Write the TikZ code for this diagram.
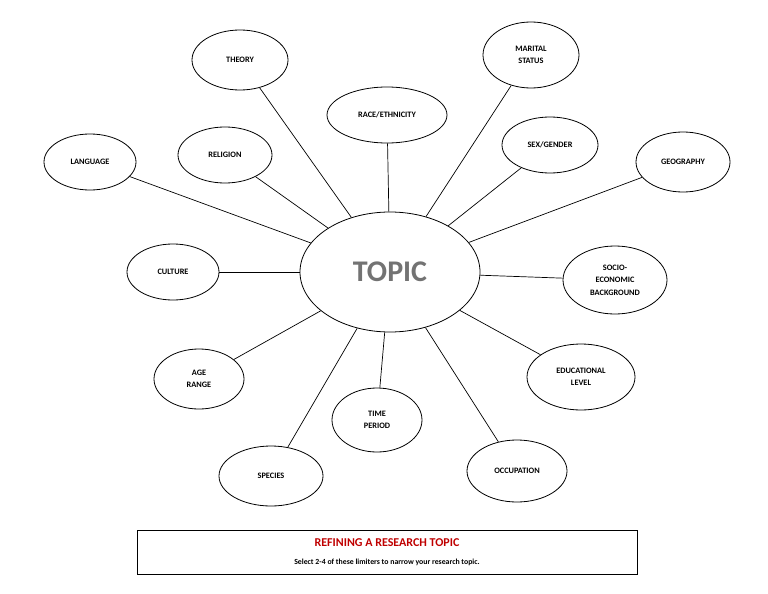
\documentclass[tikz,border=0pt]{standalone}
\usepackage{fontspec}
\setmainfont{Carlito}
\usetikzlibrary{shapes.geometric}
\begin{document}
\begin{tikzpicture}[x=1pt,y=-1pt,
  lim/.style={draw,ellipse,line width=0.8pt,inner sep=0pt,font=\bfseries\fontsize{8.3}{12.5}\selectfont,align=center},
  conn/.style={line width=0.7pt}]
\useasboundingbox (0,0) rectangle (768,594);
\node[lim,minimum width=180,minimum height=120,font=\bfseries\fontsize{30}{32}\selectfont,text=black!55] (topic) at (390,272) {TOPIC};
\node[lim,minimum width=96,minimum height=60] (theory) at (240,60) {THEORY};
\node[lim,minimum width=96,minimum height=66] (marital) at (531,55) {MARITAL\\STATUS};
\node[lim,minimum width=120,minimum height=56] (race) at (387,115) {RACE/ETHNICITY};
\node[lim,minimum width=96,minimum height=56] (sex) at (550,145) {SEX/GENDER};
\node[lim,minimum width=94,minimum height=56] (religion) at (225,155) {RELIGION};
\node[lim,minimum width=92,minimum height=56] (language) at (90,162) {LANGUAGE};
\node[lim,minimum width=94,minimum height=60] (geo) at (683,162) {GEOGRAPHY};
\node[lim,minimum width=92,minimum height=56] (culture) at (173,272) {CULTURE};
\node[lim,minimum width=104,minimum height=68] (socio) at (615,280) {SOCIO-\\ECONOMIC\\BACKGROUND};
\node[lim,minimum width=108,minimum height=66] (edu) at (581,377) {EDUCATIONAL\\LEVEL};
\node[lim,minimum width=90,minimum height=60] (age) at (199,379) {AGE\\RANGE};
\node[lim,minimum width=90,minimum height=64] (time) at (377,420) {TIME\\PERIOD};
\node[lim,minimum width=104,minimum height=60] (species) at (271,476) {SPECIES};
\node[lim,minimum width=100,minimum height=62] (occ) at (517,471) {OCCUPATION};
\foreach \n in {theory,marital,race,sex,religion,language,geo,culture,socio,edu,age,time,species,occ}
  \draw[conn] (\n) -- (topic);
\node[draw,line width=0.6pt,minimum width=500,minimum height=44,inner sep=0pt] (box) at (387,552) {};
\node[text=red!75!black,font=\bfseries\fontsize{12}{14}\selectfont] (title) at (387,543) {REFINING A RESEARCH TOPIC};
\node[font=\bfseries\fontsize{7.8}{9}\selectfont] (sub) at (387,562) {Select 2-4 of these limiters to narrow your research topic.};
\end{tikzpicture}
\end{document}
